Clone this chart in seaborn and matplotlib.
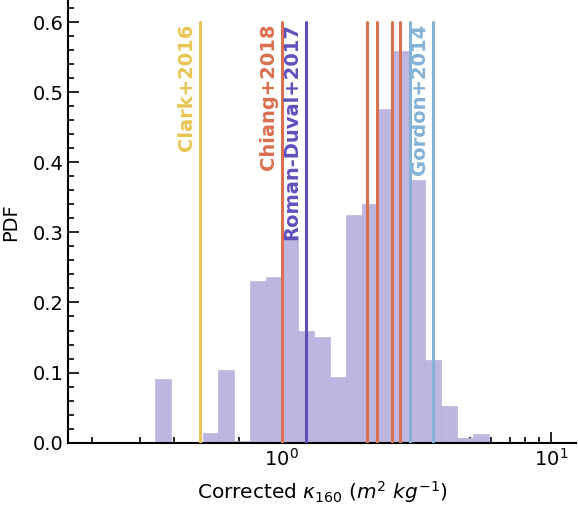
import numpy as np
import pandas as pd
import matplotlib
matplotlib.use("Agg")
import matplotlib.pyplot as plt
from matplotlib.ticker import MultipleLocator
import seaborn as sns

# histogram of corrected kappa_160 (log10 bin range, 21 bins)
log_bin_lo = -0.467
log_bin_hi = 0.768
pdf_values = [0.091, 0.0, 0.0, 0.014, 0.103, 0.003, 0.230, 0.236, 0.295, 0.159,
              0.151, 0.094, 0.325, 0.340, 0.476, 0.558, 0.375, 0.118, 0.053,
              0.007, 0.013]

# literature values
ref_names = ["Clark+2016", "Chiang+2018", "Roman-Duval+2017", "Gordon+2014"]
ref_colors = ["#e8c552", "#d9704f", "#5f4fbb", "#84b1d6"]
ref_kappas = [[0.50], [1.01, 2.07, 2.26, 2.58, 2.75], [1.234], [3.01, 3.64]]
ref_label_at = [0.50, 1.01, 1.234, 3.64]

n_bins = len(pdf_values)
edges = np.linspace(log_bin_lo, log_bin_hi, n_bins + 1)
centers = 10 ** ((edges[:-1] + edges[1:]) / 2)
df = pd.DataFrame({"kappa": centers, "pdf": pdf_values})

sns.set_style("ticks", {"axes.edgecolor": "black", "text.color": "black",
                        "axes.labelcolor": "black", "xtick.color": "black",
                        "ytick.color": "black"})
plt.rcParams["font.family"] = ["DejaVu Sans"]

fig = plt.figure(figsize=(5.78, 5.05), dpi=100)
ax = fig.add_axes([0.118, 0.1234, 0.878, 0.8746])

sns.histplot(data=df, x="kappa", weights="pdf", bins=n_bins,
             binrange=(log_bin_lo, log_bin_hi), log_scale=True, stat="count",
             color="#bdb6e0", alpha=1.0, edgecolor="#b3abd9", linewidth=0.4,
             ax=ax)

for name, c, ks, kl in zip(ref_names, ref_colors, ref_kappas, ref_label_at):
    for k in ks:
        ax.plot([k, k], [0, 0.6], color=c, lw=2.2, zorder=3)
    ax.annotate(name, xy=(kl, 0.6), xytext=(-3, -1), textcoords="offset points",
                rotation=90, ha="right", va="top", color=c,
                fontsize=14, fontweight="bold", zorder=4)

ax.set_xlim(0.163, 12.3)
ax.set_ylim(0, 0.63)
ax.yaxis.set_major_locator(MultipleLocator(0.1))
ax.yaxis.set_minor_locator(MultipleLocator(0.02))

ax.tick_params(which="both", direction="in", labelsize=14, width=1.2)
ax.tick_params(which="major", length=8)
ax.tick_params(which="minor", length=4)
for s in ["left", "bottom"]:
    ax.spines[s].set_linewidth(1.5)
sns.despine(ax=ax)

ax.set_xlabel(r"Corrected $\kappa_{160}$ ($m^2\ kg^{-1}$)", fontsize=14.5,
              labelpad=7)
ax.set_ylabel("PDF", fontsize=14, labelpad=9)

fig.savefig("out.png", dpi=100)
